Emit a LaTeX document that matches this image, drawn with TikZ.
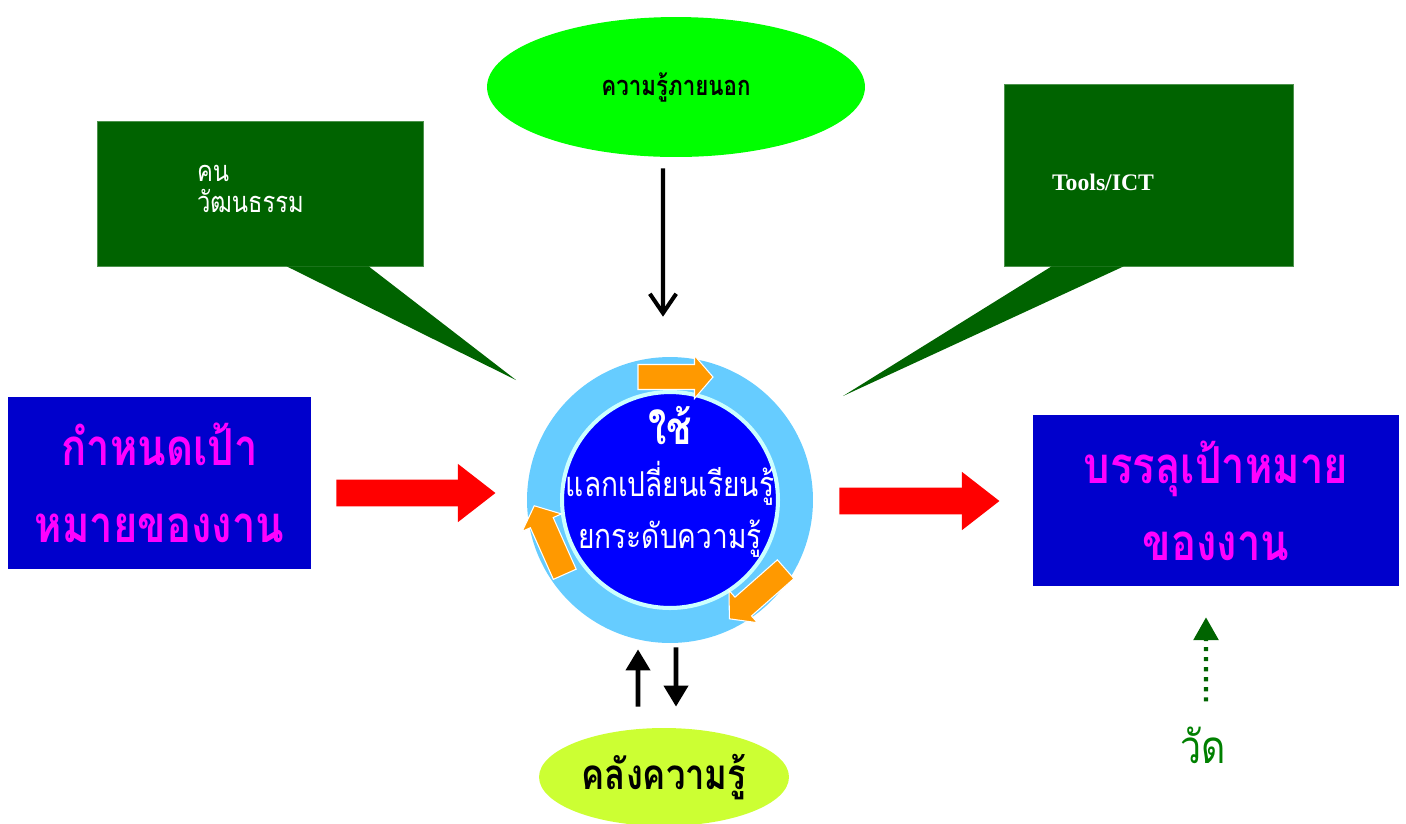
\documentclass[tikz,border=0pt]{standalone}
\usepackage{fontspec}
\setmainfont{Liberation Serif}
\newfontfamily\thaifont[Script=Thai, FakeStretch=0.82]{Loma}
\usetikzlibrary{arrows.meta,positioning,shapes.geometric}

\definecolor{calloutgreen}{RGB}{0,99,0}
\definecolor{boxblue}{RGB}{0,0,204}
\definecolor{goalpink}{RGB}{255,0,255}
\definecolor{arrowred}{RGB}{255,0,0}
\definecolor{ringblue}{RGB}{102,204,255}
\definecolor{coreblue}{RGB}{0,0,255}
\definecolor{corerim}{RGB}{204,255,255}
\definecolor{floworange}{RGB}{255,153,0}
\definecolor{outergreen}{RGB}{0,255,0}
\definecolor{bankgreen}{RGB}{204,255,51}
\definecolor{measuregreen}{RGB}{0,128,0}
\definecolor{measuredark}{RGB}{0,100,0}

\begin{document}
\begin{tikzpicture}[
  x=0.02cm, y=-0.02cm,
  every node/.style={align=center, inner sep=0pt},
  callout/.style={rectangle, fill=calloutgreen, draw=calloutgreen!70!white, line width=0.4pt},
  callouttext/.style={text=white, anchor=west, align=left},
  goalbox/.style={rectangle, fill=boxblue, text=goalpink, font=\thaifont\bfseries\fontsize{29}{43.7}\selectfont},
  bubble/.style={ellipse, text=black, font=\thaifont\bfseries},
  bigarrow/.style={draw=arrowred, line width=15.3pt, -{Triangle[length=21.5pt, width=31.7pt]}},
  blackarrow/.style={draw=black, line width=2.8pt, -{Triangle[length=12pt, width=13.5pt]}},
  flowarrow/.style={fill=floworange, draw=white, line width=0.6pt}
]
\useasboundingbox (0,0) rectangle (1406,823);

% --- CENTRE CIRCLE ---
\node[circle, fill=ringblue, minimum size=5.72cm] (ring) at (670,500) {};
\node[circle, fill=coreblue, draw=corerim, line width=2.3pt, minimum size=4.32cm] (core) at (ring.center) {};
\node[text=white, font=\thaifont\fontsize{19.5}{29.5}\selectfont] (use) at ([yshift=0.36cm]core.center)
  {{\bfseries\fontsize{26}{29.5}\selectfont ใช้}\\แลกเปลี่ยนเรียนรู้\\ยกระดับความรู้};

% cycle arrows on the ring
\foreach \px/\py/\ang in {675.5/377/0, 757.5/594/221.4, 549.5/540/114}
  \filldraw[flowarrow, shift={(\px,\py)}, rotate=\ang]
    (-37.5,-12.5) -- (19,-12.5) -- (19,-21.5) -- (37.5,0) -- (19,21.5) -- (19,12.5) -- (-37.5,12.5) -- cycle;

% --- CALLOUTS ---
\node[callout, minimum width=6.52cm, minimum height=2.9cm] (people) at (260,193.5) {};
\coordinate (peopletip) at (516,380);
\fill[calloutgreen] ([xshift=3.8cm]people.south west) -- (peopletip) -- ([xshift=5.44cm]people.south west) -- cycle;
\node[callouttext, font=\thaifont\fontsize{16.5}{17.5}\selectfont] (peoplelabel) at ([xshift=2cm, yshift=0.09cm]people.west) {คน\\วัฒนธรรม};

\node[callout, minimum width=5.78cm, minimum height=3.64cm] (tools) at (1148.5,175) {};
\coordinate (toolstip) at (843,396);
\fill[calloutgreen] ([xshift=0.96cm]tools.south west) -- (toolstip) -- ([xshift=2.4cm]tools.south west) -- cycle;
\node[callouttext, font=\bfseries\fontsize{13.5}{16}\selectfont] (toolslabel) at ([xshift=0.96cm, yshift=-0.14cm]tools.west) {Tools/ICT};

% --- OUTER KNOWLEDGE ---
\node[bubble, fill=outergreen, minimum width=7.56cm, minimum height=2.8cm, font=\thaifont\bfseries\fontsize{15.5}{16}\selectfont] (outer) at (676,87) {ความรู้ภายนอก};
\draw[line width=2.3pt, -{Straight Barb[length=11pt, width=15pt]}] ([xshift=-0.26cm, yshift=-0.22cm]outer.south) -- ([xshift=-0.14cm, yshift=0.8cm]ring.north);

% --- GOAL BOXES ---
\node[goalbox, minimum width=6.06cm, minimum height=3.44cm] (goal) at (159.5,483) {กำหนดเป้า\\หมายของงาน};
\node[goalbox, minimum width=7.32cm, minimum height=3.42cm] (reach) at (1216,500.5) {บรรลุเป้าหมาย\\ของงาน};

\draw[bigarrow, shorten <=0.5cm, shorten >=0.62cm] ([yshift=-0.2cm]goal.east) -- ([yshift=0.14cm]ring.west);
\draw[bigarrow, shorten <=0.52cm, shorten >=0.66cm] ([yshift=-0.02cm]ring.east) -- ([yshift=-0.01cm]reach.west);

% --- KNOWLEDGE STORE ---
\node[bubble, fill=bankgreen, minimum width=5cm, minimum height=1.96cm, font=\thaifont\bfseries\fontsize{24}{26}\selectfont] (bank) at (664,777) {คลังความรู้};
\draw[blackarrow] ([xshift=-0.52cm, yshift=0.42cm]bank.north) -- ([xshift=-0.64cm, yshift=-0.12cm]ring.south);
\draw[blackarrow] ([xshift=0.12cm, yshift=-0.08cm]ring.south) -- ([xshift=0.24cm, yshift=0.42cm]bank.north);

% --- MEASURE ---
\node[text=measuregreen, font=\thaifont\fontsize{26}{28}\selectfont] (measure) at (1203,745) {วัด};
\draw[measuredark, line width=2.3pt, dash pattern=on 2.3pt off 3.4pt, shorten <=0.5cm,
  -{Triangle[length=13pt, width=14pt]}] ([xshift=0.06cm]measure.north) -- ([xshift=-0.2cm, yshift=-0.62cm]reach.south);

\end{tikzpicture}
\end{document}
